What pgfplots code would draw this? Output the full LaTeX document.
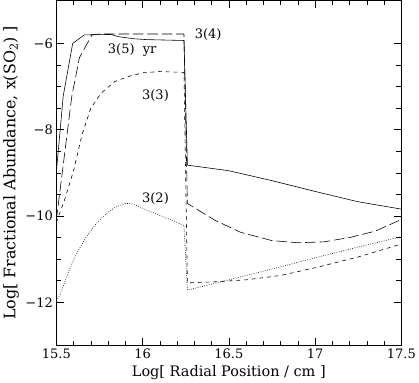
\documentclass[border=0pt]{standalone}
\usepackage{pgfplots}
\pgfplotsset{compat=1.18}
\usepackage{fontspec}
\setmainfont{DejaVu Serif}

\begin{document}
\begin{tikzpicture}
\begin{axis}[
  scale only axis,
  width=358pt, height=358pt,
  xmin=15.5, xmax=17.5, ymin=-13, ymax=-5,
  xtick={15.5,16,16.5,17,17.5},
  xticklabels={15.5,16,16.5,17,17.5},
  ytick={-12,-10,-8,-6},
  yticklabels={−12,−10,−8,−6},
  minor x tick num=4,
  minor y tick num=3,
  tick align=inside,
  major tick length=8pt,
  minor tick length=5pt,
  tick style={black, line width=0.6pt},
  axis line style={line width=0.8pt},
  tick label style={font=\fontsize{13.5}{16}\selectfont},
  xlabel style={font=\fontsize{15}{18}\selectfont},
  ylabel style={font=\fontsize{16.5}{19}\selectfont},
  xlabel={Log[ Radial Position / cm ]},
  ylabel={Log[ Fractional Abundance, x(SO\textsubscript{2}) ]},
  every axis plot/.append style={black, line width=0.6pt},
]
% 3(5) yr
\addplot[solid] coordinates {(15.5,-9.0) (15.54,-7.22) (15.595,-6.0) (15.662,-5.8) (15.818,-5.79) (15.857,-5.84) (15.95,-5.89) (16.025,-5.91) (16.24,-5.93) (16.26,-8.82) (16.5,-8.95) (16.75,-9.18) (17.0,-9.43) (17.25,-9.67) (17.5,-9.84)};
% 3(4)
\addplot[dash pattern=on 11pt off 4pt] coordinates {(15.5,-10.1) (15.59,-7.22) (15.634,-6.33) (15.707,-5.8) (15.75,-5.78) (16.24,-5.78) (16.26,-9.71) (16.42,-10.1) (16.57,-10.38) (16.75,-10.57) (16.9,-10.62) (17.05,-10.6) (17.2,-10.5) (17.35,-10.35) (17.5,-10.08)};
% 3(3)
\addplot[dash pattern=on 4pt off 4pt] coordinates {(15.5,-10.15) (15.55,-9.6) (15.6,-8.95) (15.65,-8.1) (15.7,-7.5) (15.76,-7.15) (15.84,-6.88) (15.93,-6.75) (16.0,-6.68) (16.1,-6.65) (16.24,-6.67) (16.26,-11.55) (16.4,-11.53) (16.6,-11.48) (16.8,-11.38) (17.0,-11.2) (17.25,-10.95) (17.5,-10.65)};
% 3(2)
\addplot[dash pattern=on 0.8pt off 1.6pt] coordinates {(15.5,-11.96) (15.522,-11.82) (15.578,-11.22) (15.625,-10.82) (15.673,-10.49) (15.73,-10.18) (15.785,-9.96) (15.84,-9.8) (15.897,-9.71) (15.93,-9.71) (15.98,-9.78) (16.04,-9.89) (16.14,-10.05) (16.24,-10.22) (16.26,-11.72) (16.4,-11.58) (16.6,-11.38) (16.8,-11.18) (17.0,-10.97) (17.25,-10.72) (17.5,-10.48)};
\node[font=\fontsize{13.5}{16}\selectfont] at (axis cs:16.38,-5.8) {3(4)};
\node[font=\fontsize{13.5}{16}\selectfont] at (axis cs:15.94,-6.16) {3(5)\ \ yr};
\node[font=\fontsize{13.5}{16}\selectfont] at (axis cs:16.075,-7.2) {3(3)};
\node[font=\fontsize{13.5}{16}\selectfont] at (axis cs:16.075,-9.6) {3(2)};
\end{axis}
\end{tikzpicture}
\end{document}
